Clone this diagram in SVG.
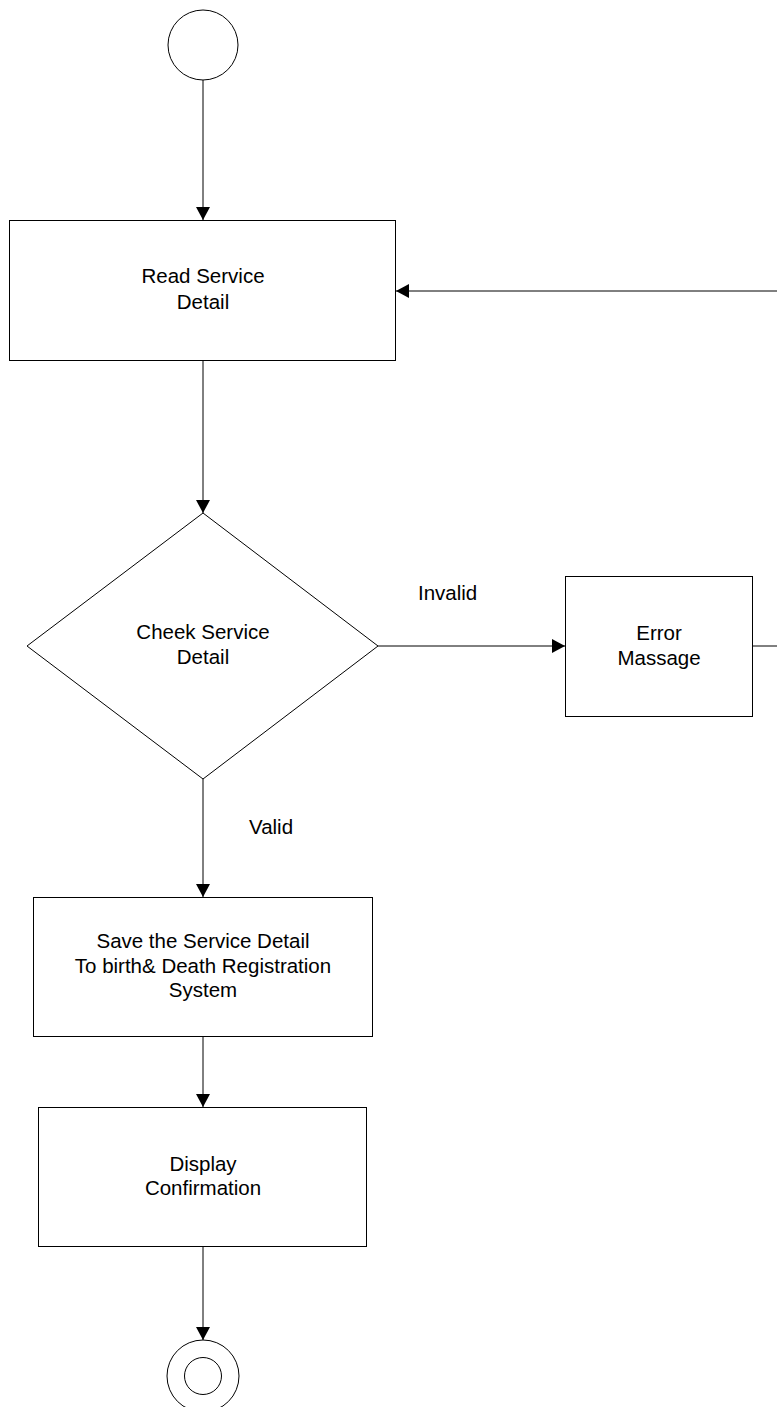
<svg xmlns="http://www.w3.org/2000/svg" width="777" height="1407" viewBox="0 0 777 1407">
<style>
.shape{fill:#fff;stroke:#000;stroke-width:1}
.edge{fill:none;stroke:#000;stroke-width:1}
text{font-family:"Liberation Sans",Arial,sans-serif;font-size:20.5px;fill:#000;text-anchor:middle}
.lbl{text-anchor:start}
</style>
<defs>
<marker id="arr" markerUnits="userSpaceOnUse" markerWidth="14" markerHeight="14" viewBox="0 0 13 14" refX="13" refY="7" orient="auto">
<path d="M0,0 L13,7 L0,14 Z" fill="#000"/>
</marker>
</defs>
<rect width="777" height="1407" fill="#fff"/>
<g id="connectors">
<path class="edge" d="M203,80 V220" marker-end="url(#arr)"/>
<path class="edge" d="M203,361 V513" marker-end="url(#arr)"/>
<path class="edge" d="M378,646 H565" marker-end="url(#arr)"/>
<path class="edge" d="M752,646 H790 V291 H396" marker-end="url(#arr)"/>
<path class="edge" d="M203,779 V897" marker-end="url(#arr)"/>
<path class="edge" d="M203,1037 V1107" marker-end="url(#arr)"/>
<path class="edge" d="M203,1247 V1340" marker-end="url(#arr)"/>
<text class="lbl" x="418" y="600">Invalid</text>
<text class="lbl" x="249" y="834">Valid</text>
</g>
<g id="start">
<circle class="shape" cx="203" cy="45" r="35"/>
</g>
<g id="read">
<rect class="shape" x="9.5" y="220.5" width="386" height="140"/>
<text x="203" y="283">Read Service</text>
<text x="203" y="309">Detail</text>
</g>
<g id="check">
<polygon class="shape" points="203,513 378,646 203,779 27,646"/>
<text x="203" y="639">Cheek Service</text>
<text x="203" y="664">Detail</text>
</g>
<g id="error">
<rect class="shape" x="565.5" y="576.5" width="187" height="140"/>
<text x="659" y="640">Error</text>
<text x="659" y="665">Massage</text>
</g>
<g id="save">
<rect class="shape" x="33.5" y="897.5" width="339" height="139"/>
<text x="203" y="948">Save the Service Detail</text>
<text x="203" y="973">To birth&amp; Death Registration</text>
<text x="203" y="997">System</text>
</g>
<g id="display">
<rect class="shape" x="38.5" y="1107.5" width="328" height="139"/>
<text x="203" y="1171">Display</text>
<text x="203" y="1195">Confirmation</text>
</g>
<g id="end">
<circle class="shape" cx="203" cy="1376" r="36"/>
<circle class="shape" cx="203" cy="1376" r="18.5"/>
</g>
</svg>
